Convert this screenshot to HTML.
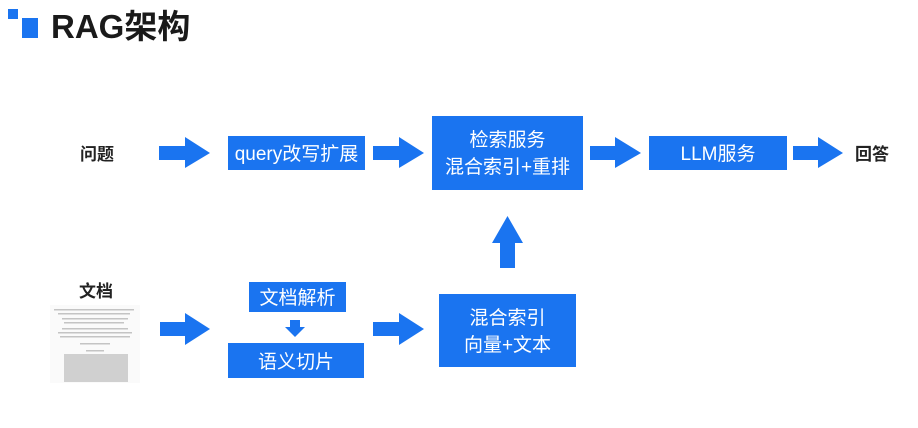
<!DOCTYPE html>
<html><head><meta charset="utf-8"><style>
body{margin:0;background:#fff;}
svg text{font-family:"Liberation Sans","Noto Sans CJK SC",sans-serif;}
</style></head><body>
<svg width="918" height="423" viewBox="0 0 918 423" xmlns="http://www.w3.org/2000/svg">
<rect width="918" height="423" fill="#fff"/>
<g fill="#1a74f0">
<rect x="8" y="9" width="10" height="10"/>
<rect x="22" y="18" width="16" height="20"/>
</g>
<text x="51" y="38" font-size="33" font-weight="bold" fill="#1a1a1a">RAG架构</text>

<g font-size="17" font-weight="bold" fill="#222">
<text x="80" y="160">问题</text>
<text x="855" y="160">回答</text>
<text x="79" y="297">文档</text>
</g>

<g fill="#1a74f0">
<path d="M159 146H185V137L210 153L185 168V160H159Z"/>
<path d="M373 146H399V137L424 153L399 168V160H373Z"/>
<path d="M590 146H615V137L641 153L615 168V160H590Z"/>
<path d="M793 146H818V137L843 153L818 168V160H793Z"/>
<path d="M160 322H185V313L210 329L185 345V336H160Z"/>
<path d="M373 322H399V313L424 329L399 345V336H373Z"/>
<path d="M500 268V243H492L507.5 216L523 243H515V268Z"/>
<path d="M290 320H300V327H305L295 337L285 327H290Z"/>
<rect x="228" y="136" width="137" height="34"/>
<rect x="432" y="116" width="151" height="74"/>
<rect x="649" y="136" width="138" height="34"/>
<rect x="439" y="294" width="137" height="73"/>
<rect x="249" y="282" width="97" height="30"/>
<rect x="228" y="343" width="136" height="35"/>
</g>

<g font-size="19" fill="#fff" text-anchor="middle">
<text x="296.5" y="160">query改写扩展</text>
<text x="507.5" y="146">检索服务</text>
<text x="507.5" y="173">混合索引+重排</text>
<text x="718" y="160">LLM服务</text>
<text x="507.5" y="324">混合索引</text>
<text x="507.5" y="351">向量+文本</text>
<text x="297.5" y="304">文档解析</text>
<text x="296" y="368">语义切片</text>
</g>

<g fill="#c4c4c4">
<rect x="50" y="305" width="90" height="78" fill="#fafafa"/>
<rect x="54" y="309" width="80" height="1.5"/>
<rect x="58" y="313" width="72" height="1.5"/>
<rect x="62" y="318" width="66" height="1.5"/>
<rect x="64" y="322" width="60" height="1.5"/>
<rect x="62" y="328" width="66" height="1.5"/>
<rect x="58" y="332" width="74" height="1.5"/>
<rect x="60" y="336" width="70" height="1.5"/>
<rect x="80" y="343" width="30" height="1.5"/>
<rect x="86" y="350" width="18" height="1.5"/>
<rect x="64" y="354" width="64" height="28" fill="#d0d0d0"/>
</g>
</svg>
</body></html>
